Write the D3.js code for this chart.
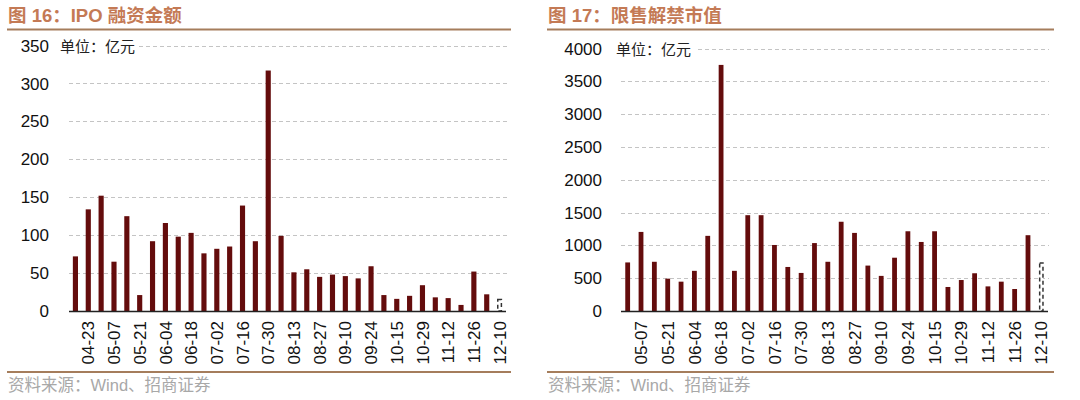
<!DOCTYPE html>
<html>
<head>
<meta charset="utf-8">
<script src="https://cdn.jsdelivr.net/npm/d3@7/dist/d3.min.js"></script>
<style>
  body { margin: 0; background: #fff; }
  svg { display: block; }
</style>
</head>
<body>
<svg id="chart" width="1080" height="400"></svg>
<script>
// 图16 IPO 融资金额（亿元），每周
const ipoDates = ['04-16', '04-23', '04-30', '05-07', '05-14', '05-21', '05-28', '06-04', '06-11', '06-18',
  '06-25', '07-02', '07-09', '07-16', '07-23', '07-30', '08-06', '08-13', '08-20', '08-27', '09-03', '09-10',
  '09-17', '09-24', '10-08', '10-15', '10-22', '10-29', '11-05', '11-12', '11-19', '11-26', '12-03', '12-10']
const ipoValues = [72, 134, 152, 65, 125, 21, 92, 116, 98, 103, 76, 82, 85, 139, 92, 317, 99, 51, 55, 45,
  48, 46, 43, 59, 21, 16, 20, 34, 18, 17, 8, 52, 22, 15]
const ipoTicks = [0, 50, 100, 150, 200, 250, 300, 350]

// 图17 限售解禁市值（亿元），每周
const unlockDates = ['04-30', '05-07', '05-14', '05-21', '05-28', '06-04', '06-11', '06-18', '06-25', '07-02',
  '07-09', '07-16', '07-23', '07-30', '08-06', '08-13', '08-20', '08-27', '09-03', '09-10', '09-17', '09-24',
  '10-08', '10-15', '10-22', '10-29', '11-05', '11-12', '11-19', '11-26', '12-03', '12-10']
const unlockValues = [740, 1205, 750, 493, 447, 612, 1145, 3750, 612, 1460, 1460, 1006, 671, 580, 1035, 750,
  1360, 1190, 692, 535, 812, 1215, 1052, 1215, 366, 472, 575, 375, 447, 335, 1155, 731]
const unlockTicks = [0, 500, 1000, 1500, 2000, 2500, 3000, 3500, 4000]

const BAR = '#640c0c'
const TITLE = '#c47a55'
const RULE = '#a57d5c'
const NUM_FONT = '"Liberation Sans", Arial, sans-serif'
const MIX_FONT = '"Liberation Sans", "Noto Sans CJK SC", sans-serif'
const CJK_FONT = '"Noto Sans CJK SC", sans-serif'

const svg = d3.select('#chart')

function drawPanel (cfg) {
  const g = svg.append('g')

  // title + rules
  g.append('text')
      .attr('x', cfg.left + 8)
      .attr('y', 22)
      .attr('fill', TITLE)
      .attr('font-family', MIX_FONT)
      .attr('font-weight', 'bold')
      .attr('font-size', 18.5)
      .text(cfg.title)
  g.append('line')
      .attr('x1', cfg.left + 7).attr('x2', cfg.ruleRight)
      .attr('y1', 29.5).attr('y2', 29.5)
      .attr('stroke', RULE).attr('stroke-width', 2)
  g.append('line')
      .attr('x1', cfg.left + 7).attr('x2', cfg.ruleRight)
      .attr('y1', 372).attr('y2', 372)
      .attr('stroke', RULE).attr('stroke-width', 2)
  g.append('text')
      .attr('x', cfg.left + 8)
      .attr('y', 391)
      .attr('fill', '#a8a8a8')
      .attr('font-family', MIX_FONT)
      .attr('font-size', 16.5)
      .text('资料来源：Wind、招商证券')

  const x = d3.scaleBand()
      .domain(cfg.dates)
      .range([cfg.x0, cfg.x1])
      .paddingInner(cfg.pad)
      .paddingOuter(cfg.pad / 2)
  const y = d3.scaleLinear()
      .domain([0, cfg.ticks[cfg.ticks.length - 1]])
      .range([311, cfg.yTop])

  // gridlines
  g.append('g')
      .selectAll('line.grid')
      .data(cfg.ticks.filter(t => t > 0))
      .enter()
      .append('line')
      .attr('class', 'grid')
      .attr('x1', cfg.x0)
      .attr('x2', cfg.gridRight)
      .attr('y1', d => Math.round(y(d)) + 0.5)
      .attr('y2', d => Math.round(y(d)) + 0.5)
      .attr('stroke', '#c4c4c4')
      .attr('stroke-dasharray', '4,3')

  // y labels
  g.append('g')
      .selectAll('text.ylab')
      .data(cfg.ticks)
      .enter()
      .append('text')
      .attr('class', 'ylab')
      .attr('x', cfg.yLabelX)
      .attr('y', d => y(d))
      .attr('dy', '0.36em')
      .attr('text-anchor', 'end')
      .attr('font-family', NUM_FONT)
      .attr('font-size', 17)
      .attr('fill', '#111')
      .text(d => d)

  // unit label sits on top of the top gridline
  const unit = g.append('text')
      .attr('x', cfg.unitX)
      .attr('y', y(cfg.ticks[cfg.ticks.length - 1]) + 6)
      .attr('font-family', CJK_FONT)
      .attr('font-size', 15)
      .attr('fill', '#222')
      .text('单位：亿元')
  const bb = unit.node().getBBox()
  g.insert('rect', function () { return unit.node() })
      .attr('x', bb.x - 4).attr('y', bb.y)
      .attr('width', bb.width + 8).attr('height', bb.height)
      .attr('fill', '#fff')

  const n = cfg.values.length
  // solid bars
  g.append('g')
      .selectAll('rect.bar')
      .data(cfg.values.slice(0, n - 1))
      .enter()
      .append('rect')
      .attr('class', 'bar')
      .attr('x', (d, i) => x(cfg.dates[i]))
      .attr('y', d => y(d))
      .attr('width', x.bandwidth())
      .attr('height', d => 311 - y(d))
      .attr('fill', BAR)
  // last week: estimate, dashed outline
  const last = cfg.values[n - 1]
  g.append('rect')
      .attr('x', x(cfg.dates[n - 1]) + 0.75)
      .attr('y', y(last))
      .attr('width', x.bandwidth() - 1.5)
      .attr('height', 311 - y(last))
      .attr('fill', '#fff')
      .attr('stroke', '#333')
      .attr('stroke-width', 1.5)
      .attr('stroke-dasharray', '4,3')

  // x axis
  const axis = d3.axisBottom(x)
      .tickValues(cfg.dates.filter((d, i) => i % 2 === 1))
      .tickSize(0)
  const ax = g.append('g')
      .attr('transform', 'translate(0,311)')
      .call(axis)
  ax.select('.domain')
      .attr('d', `M${cfg.x0},0.5H${cfg.x1}`)
      .attr('stroke', '#222')
      .attr('stroke-width', 1.5)
  ax.selectAll('text')
      .attr('font-family', NUM_FONT)
      .attr('font-size', 17)
      .attr('fill', '#111')
      .attr('transform', 'rotate(-90)')
      .attr('text-anchor', 'end')
      .attr('x', -10)
      .attr('y', 0)
      .attr('dy', '0.36em')
}

drawPanel({
  left: 0,
  title: '图 16：IPO 融资金额',
  dates: ipoDates,
  values: ipoValues,
  ticks: ipoTicks,
  x0: 69,
  x1: 506,
  gridRight: 510,
  ruleRight: 511,
  pad: 0.6,
  yTop: 45.5,
  yLabelX: 49,
  unitX: 60
})

drawPanel({
  left: 540,
  title: '图 17：限售解禁市值',
  dates: unlockDates,
  values: unlockValues,
  ticks: unlockTicks,
  x0: 621,
  x1: 1048,
  gridRight: 1049,
  ruleRight: 1054,
  pad: 0.64,
  yTop: 48.5,
  yLabelX: 602,
  unitX: 616
})
</script>
</body>
</html>
